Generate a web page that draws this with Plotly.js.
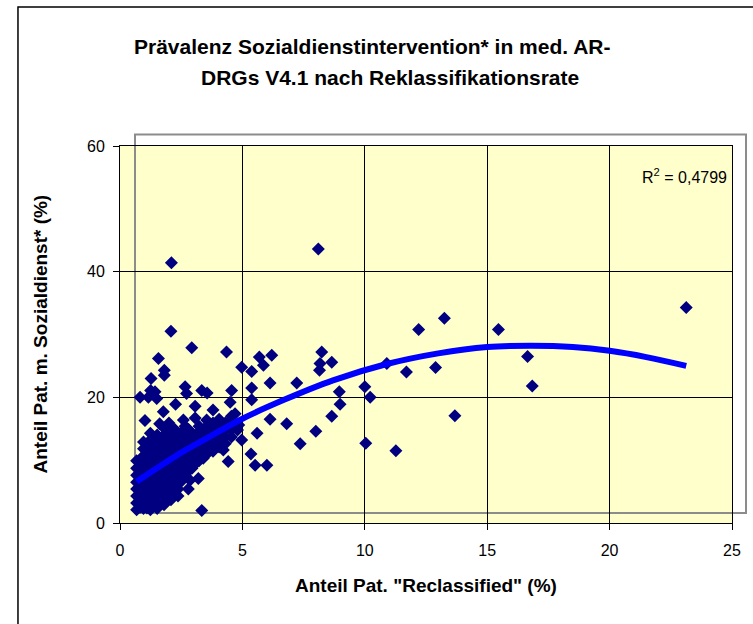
<!DOCTYPE html>
<html>
<head>
<meta charset="utf-8">
<script src="https://cdn.plot.ly/plotly-3.0.1.min.js"></script>
<style>
html,body{margin:0;padding:0;background:#fff;}
#chart{width:753px;height:624px;}
</style>
</head>
<body>
<div id="chart"></div>
<script>
// Scattered DRGs
const spreadX = [23.13, 8.1, 2.1, 2.08, 2.93, 4.35, 1.57, 1.81, 1.81, 1.27,
  12.2, 13.25, 15.46, 16.65, 16.84, 12.89, 11.7, 10.9, 13.68, 10.0,
  10.22, 10.04, 11.27, 8.96, 8.99, 8.65, 8.65, 8.24, 8.17, 8.15,
  8.0, 7.36, 7.22, 6.13, 6.81, 6.13, 5.6, 5.35, 5.52, 6.0,
  4.97, 5.38, 5.38, 4.56, 4.5, 4.97, 5.38, 5.69, 6.2, 5.86,
  4.7, 4.39, 2.66, 2.72, 3.34, 3.56, 1.25, 1.43, 0.82, 1.16,
  1.5, 2.27, 3.07, 3.8, 3.07, 2.59, 3.54, 1.77, 1.02, 4.8,
  4.22, 4.42, 3.34, 2.86, 2.79, 3.2, 4.85, 1.62, 2.0];
const spreadY = [34.3, 43.6, 41.4, 30.5, 27.9, 27.2, 26.2, 24.3, 23.5, 23.0,
  30.8, 32.6, 30.8, 26.5, 21.8, 24.75, 24.05, 25.4, 17.06, 21.7,
  20.0, 12.7, 11.5, 20.9, 18.9, 17.0, 25.6, 27.2, 25.4, 24.3,
  14.6, 12.6, 22.3, 22.3, 15.8, 16.5, 14.3, 11.0, 9.2, 9.2,
  13.2, 21.5, 19.6, 21.1, 19.2, 24.8, 24.1, 26.4, 26.7, 25.1,
  17.4, 15.9, 21.7, 20.6, 21.1, 20.7, 21.1, 20.9, 20.0, 20.0,
  19.8, 18.9, 18.6, 18.0, 16.7, 16.4, 16.4, 17.7, 16.3, 14.8,
  11.6, 9.8, 2.0, 6.8, 5.4, 7.1, 15.6, 15.8, 15.9];

// Dense cluster of DRGs with low reclassification rate (estimated, overlapping)
const clusterX = [
  0.68,0.68,0.68,0.68,0.68,0.68,0.68,0.68,
  0.82,0.82,0.82,0.82,0.82,0.82,0.82,
  0.96,0.96,0.96,0.96,0.96,0.96,0.96,0.96,0.96,0.96,0.96,
  1.1,1.1,1.1,1.1,1.1,1.1,1.1,1.1,1.1,1.1,
  1.24,1.24,1.24,1.24,1.24,1.24,1.24,1.24,1.24,1.24,1.24,1.24,
  1.38,1.38,1.38,1.38,1.38,1.38,1.38,1.38,1.38,1.38,
  1.52,1.52,1.52,1.52,1.52,1.52,1.52,1.52,1.52,1.52,1.52,1.52,
  1.66,1.66,1.66,1.66,1.66,1.66,1.66,1.66,1.66,1.66,
  1.8,1.8,1.8,1.8,1.8,1.8,1.8,1.8,1.8,1.8,1.8,1.8,
  1.95,1.95,1.95,1.95,1.95,1.95,1.95,1.95,1.95,1.95,
  2.08,2.08,2.08,2.08,2.08,2.08,2.08,2.08,2.08,2.08,2.08,
  2.24,2.24,2.24,2.24,2.24,2.24,2.24,2.24,2.24,2.24,
  2.37,2.37,2.37,2.37,2.37,2.37,2.37,2.37,2.37,2.37,
  2.52,2.52,2.52,2.52,2.52,2.52,2.52,2.52,
  2.66,2.66,2.66,2.66,2.66,2.66,2.66,2.66,
  2.8,2.8,2.8,2.8,2.8,2.8,2.8,
  2.94,2.94,2.94,2.94,2.94,2.94,
  3.1,3.1,3.1,3.1,3.1,
  3.23,3.23,3.23,3.23,3.23,3.23,
  3.4,3.4,3.4,3.4,3.4,
  3.55,3.55,3.55,3.55,3.55,
  3.8,3.8,3.8,3.8,3.8,
  4.05,4.05,4.05,4.05,4.05,
  4.3,4.3,4.3,4.3,
  4.55,4.55,4.55,4.55];
const clusterY = [
  2.1,3.2,4.3,5.4,6.5,7.6,8.7,9.9,
  2.5,3.7,4.8,5.9,7.0,8.1,9.2,
  2.9,4.0,5.1,6.2,7.3,8.4,9.5,10.7,11.8,12.9,2.3,
  2.4,3.5,4.6,5.7,6.8,8.0,9.1,10.2,11.3,12.4,
  2.1,3.2,4.3,5.4,6.5,7.6,8.7,9.9,11.0,12.1,13.2,14.3,
  2.7,3.8,4.9,6.0,7.2,8.3,9.4,10.5,11.6,12.7,
  2.3,2.9,4.0,5.1,6.2,7.3,8.4,9.5,10.7,11.8,12.9,14.0,
  3.3,4.5,5.6,6.7,7.8,8.9,10.0,11.1,12.2,13.4,
  2.9,4.0,5.1,6.2,7.3,8.4,9.5,10.7,11.8,12.9,14.0,15.1,
  4.1,5.2,6.4,7.5,8.6,9.7,10.8,11.9,13.0,14.2,
  3.7,4.8,5.9,7.0,8.1,9.2,10.3,11.4,12.6,13.7,14.8,
  4.9,6.0,7.2,8.3,9.4,10.5,11.6,12.7,13.8,14.9,
  4.3,5.4,6.5,7.6,8.7,9.9,11.0,12.1,13.2,14.3,
  6.7,7.8,8.9,10.0,11.1,12.2,13.4,14.5,
  7.6,8.7,9.9,11.0,12.1,13.2,14.3,15.4,
  8.3,9.4,10.5,11.6,12.7,13.8,14.9,
  8.7,9.9,11.0,12.1,13.2,14.3,
  9.5,10.7,11.8,12.9,14.0,
  9.9,11.0,12.1,13.2,14.3,15.4,
  10.3,11.4,12.6,13.7,14.8,
  11.0,12.1,13.2,14.3,15.4,
  11.4,12.6,13.7,14.8,15.9,
  12.1,13.2,14.3,15.4,16.5,
  12.6,13.7,14.8,15.9,
  13.7,14.8,15.9,17.0];

// Polynomial trendline, points
const trendX = [0.68, 1.5, 2.5, 3.5, 5, 6.7, 8.7, 10.9, 13, 15, 16.8, 18.5, 20, 21.5, 23.13];
const trendY = [6.6, 8.7, 11.2, 13.4, 16.6, 19.6, 22.7, 25.3, 27.0, 28.0, 28.2, 28.0, 27.4, 26.4, 25.0];

const xTicks = [0, 5, 10, 15, 20, 25];
const yTicks = [0, 20, 40, 60];

const titleLine1 = 'Prävalenz Sozialdienstintervention* in med. AR-';
const titleLine2 = 'DRGs V4.1 nach Reklassifikationsrate';
const xTitle = 'Anteil Pat. "Reclassified" (%)';
const yTitle = 'Anteil Pat. m. Sozialdienst* (%)';
const r2Text = 'R<sup>2</sup> = 0,4799';

const FONT = 'Arial, "Liberation Sans", sans-serif';

const traces = [
  {
    type: 'scatter', mode: 'markers',
    x: clusterX.concat(spreadX), y: clusterY.concat(spreadY),
    marker: {symbol: 'diamond', size: 10, color: '#000080', line: {width: 0}},
    hoverinfo: 'x+y', showlegend: false
  },
  {
    type: 'scatter', mode: 'lines',
    x: trendX, y: trendY,
    line: {color: '#0000FF', width: 6, shape: 'spline'},
    hoverinfo: 'skip', showlegend: false
  }
];

const axisCommon = {
  showline: true, mirror: true, linecolor: '#000', linewidth: 1,
  showgrid: true, gridcolor: '#000', gridwidth: 1,
  zeroline: false,
  ticks: 'outside', ticklen: 6, tickcolor: '#000', tickwidth: 1,
  tickfont: {family: FONT, size: 16, color: '#000'},
  fixedrange: true
};

const layout = {
  width: 753, height: 624,
  margin: {l: 120, r: 21, t: 146, b: 101},
  paper_bgcolor: '#FFFFFF',
  plot_bgcolor: 'rgba(0,0,0,0)',
  showlegend: false,
  xaxis: Object.assign({}, axisCommon, {
    range: [0, 25], tickvals: xTicks, ticktext: xTicks.map(String),
    ticklabelstandoff: 7
  }),
  yaxis: Object.assign({}, axisCommon, {
    range: [0, 60], tickvals: yTicks, ticktext: yTicks.map(String),
    ticklabelstandoff: 5
  }),
  shapes: [
    {type: 'rect', xref: 'paper', yref: 'paper', x0: 0, x1: 1, y0: 0, y1: 1,
     fillcolor: '#FFFFCC', line: {width: 0}, layer: 'below'},
    {type: 'rect', xref: 'paper', yref: 'paper', x0: 0.0245, x1: 1.0229, y0: 0.0265, y1: 1.0305,
     fillcolor: 'rgba(0,0,0,0)', line: {color: '#8C8C8C', width: 2}, layer: 'below'},
    {type: 'rect', xref: 'paper', yref: 'paper', x0: -0.1667, x1: 1.2, y0: -0.4, y1: 1.3687,
     fillcolor: 'rgba(0,0,0,0)', line: {color: '#000', width: 1.5}, layer: 'below'}
  ],
  annotations: [
    {text: '<b>' + titleLine1 + '</b>', xref: 'paper', yref: 'paper', x: 0.4118, y: 1.2626,
     xanchor: 'center', yanchor: 'middle', showarrow: false,
     font: {family: FONT, size: 21, color: '#000'}},
    {text: '<b>' + titleLine2 + '</b>', xref: 'paper', yref: 'paper', x: 0.4412, y: 1.1804,
     xanchor: 'center', yanchor: 'middle', showarrow: false,
     font: {family: FONT, size: 21, color: '#000'}},
    {text: '<b>' + xTitle + '</b>', xref: 'paper', yref: 'paper', x: 0.5, y: -0.1645,
     xanchor: 'center', yanchor: 'middle', showarrow: false,
     font: {family: FONT, size: 19, color: '#000'}},
    {text: '<b>' + yTitle + '</b>', xref: 'paper', yref: 'paper', x: -0.1307, y: 0.5,
     xanchor: 'center', yanchor: 'middle', textangle: -90, showarrow: false,
     font: {family: FONT, size: 19, color: '#000'}},
    {text: r2Text, xref: 'paper', yref: 'paper', x: 0.849, y: 0.920,
     xanchor: 'left', yanchor: 'middle', showarrow: false,
     font: {family: FONT, size: 16, color: '#000'}}
  ]
};

Plotly.newPlot('chart', traces, layout, {displayModeBar: false, staticPlot: true});
</script>
</body>
</html>
